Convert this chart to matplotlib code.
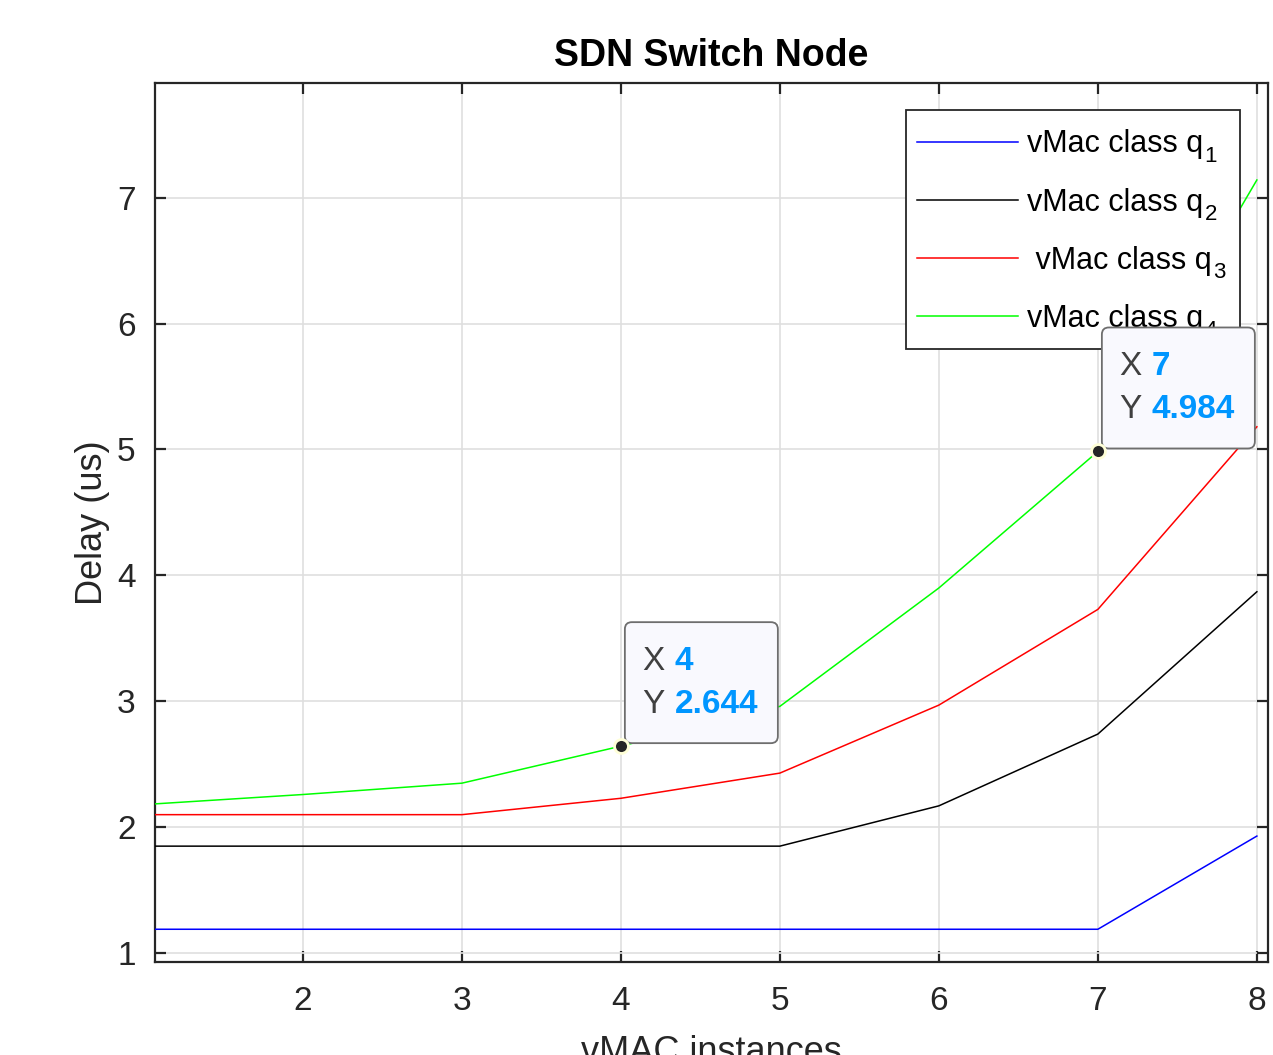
import matplotlib
matplotlib.use("Agg")
import matplotlib.pyplot as plt
import matplotlib.transforms as mtransforms
from matplotlib.patches import FancyBboxPatch, Rectangle

plt.rcParams['font.family'] = ['Liberation Sans', 'DejaVu Sans']

# ---- data ----
instances = [1, 2, 3, 4, 5, 6, 7, 8]
q1 = [1.19, 1.19, 1.19, 1.19, 1.19, 1.19, 1.19, 1.93]
q2 = [1.85, 1.85, 1.85, 1.85, 1.85, 2.17, 2.74, 3.87]
q3 = [2.10, 2.10, 2.10, 2.23, 2.43, 2.97, 3.73, 5.18]
q4 = [2.18, 2.26, 2.35, 2.644, 2.96, 3.90, 4.984, 7.14]
label_base = ['vMac class q', 'vMac class q', ' vMac class q', 'vMac class q']
label_sub = ['1', '2', '3', '4']
colors = ['#0000ff', '#000000', '#ff0000', '#00ff00']
tips_x = [4, 7]
tips_y = [2.644, 4.984]
tip_text = ['2.644', '4.984']
xticks = [2, 3, 4, 5, 6, 7, 8]
yticks = [1, 2, 3, 4, 5, 6, 7]

W, H = 1273, 1055
fig = plt.figure(figsize=(W / 100, H / 100), dpi=100)
ax = fig.add_axes([155 / W, 1 - 962 / H, (1268 - 155) / W, (962 - 83) / H])

for ys, lab, c in zip([q1, q2, q3, q4], label_base, colors):
    ax.plot(instances, ys, color=c, lw=1.1, label=lab, zorder=3)

ax.set_xlim(1.07, 8.07)
ax.set_ylim(0.93, 7.91)
ax.set_xticks(xticks)
ax.set_yticks(yticks)
ax.grid(True, color='#dfdfdf', lw=1.2, zorder=0)
ax.set_axisbelow(True)
dark = '#262626'
for s in ax.spines.values():
    s.set_color(dark)
    s.set_linewidth(1.6)
ax.tick_params(direction='in', length=8, width=1.6, colors=dark,
               labelsize=24, top=True, right=True, labeltop=False, labelright=False)
ax.tick_params(axis='x', pad=17)
ax.tick_params(axis='y', pad=14)

ax.set_title('SDN Switch Node', fontsize=27, fontweight='bold', color='black', pad=12)
ax.set_ylabel('Delay (us)', fontsize=26, color=dark, labelpad=5)
ax.set_xlabel('vMAC instances', fontsize=26, color=dark, labelpad=13)

LFS = 22
leg = ax.legend(loc='upper left', bbox_to_anchor=((902 - 155) / 1113, 0.9646),
                fontsize=LFS, frameon=False,
                handlelength=3.3, handletextpad=0.3, borderpad=0.5,
                labelspacing=0.92, borderaxespad=0)
leg.set_zorder(5)

# subscripts for legend labels (MATLAB-style large subscripts) + legend frame
fig.canvas.draw()
renderer = fig.canvas.get_renderer()
row_y = []
right = 0
for txt, line, sub in zip(leg.get_texts(), leg.get_lines(), label_sub):
    bb = txt.get_window_extent(renderer)
    ly = line.get_transform().transform(line.get_xydata())[0][1]
    row_y.append(ly)
    st = ax.text(bb.x1 + 1, ly - 4, sub, fontsize=16, transform=None,
                 color='black', ha='left', va='top', zorder=6, clip_on=False)
    right = max(right, st.get_window_extent(renderer).x1)
line0 = leg.get_lines()[0]
lx0 = line0.get_transform().transform(line0.get_xydata())[0][0]
fx0, fx1 = lx0 - 11, right + 15
fy1, fy0 = row_y[0] + 32, row_y[-1] - 33
frame = Rectangle((fx0, fy0), fx1 - fx0, fy1 - fy0, transform=None,
                  facecolor='white', edgecolor='#262626', lw=1.3, zorder=4.9,
                  clip_on=False)
ax.add_artist(frame)

# data tips
for tx, ty, tv in zip(tips_x, tips_y, tip_text):
    trans = fig.dpi_scale_trans + mtransforms.ScaledTranslation(tx, ty, ax.transData)
    box = FancyBboxPatch((0.09, 0.08), 1.43, 1.11,
                         boxstyle='round,pad=0.05,rounding_size=0.07',
                         transform=trans, facecolor='#f9f9fe', edgecolor='#6e6e6e',
                         lw=1.3, zorder=8, clip_on=False)
    ax.add_patch(box)
    ax.text(0.21, 0.85, 'X', transform=trans, fontsize=24, color='#404040',
            va='center', ha='left', zorder=9, clip_on=False)
    ax.text(0.54, 0.85, str(tx), transform=trans, fontsize=24, color='#0096ff',
            fontweight='bold', va='center', ha='left', zorder=9, clip_on=False)
    ax.text(0.21, 0.42, 'Y', transform=trans, fontsize=24, color='#404040',
            va='center', ha='left', zorder=9, clip_on=False)
    ax.text(0.54, 0.42, tv, transform=trans, fontsize=24, color='#0096ff',
            fontweight='bold', va='center', ha='left', zorder=9, clip_on=False)
    ax.plot([tx], [ty], 'o', ms=10, mfc='#262626', mec='#ffffd8', mew=2,
            zorder=10, clip_on=False)

fig.savefig('out.png', dpi=100)
